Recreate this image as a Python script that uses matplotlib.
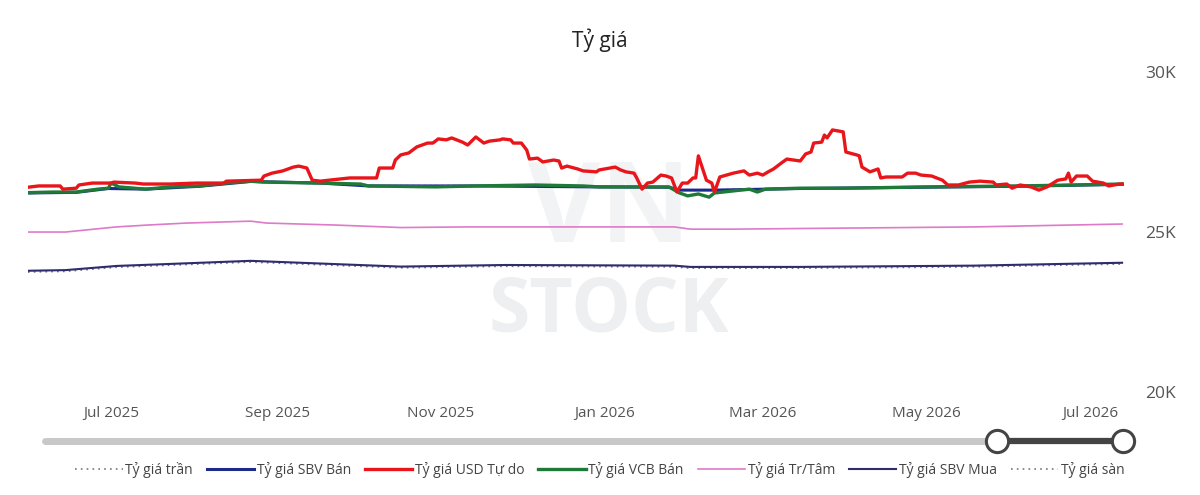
import matplotlib
matplotlib.use("Agg")
import matplotlib.pyplot as plt
import matplotlib.dates as mdates
from matplotlib.lines import Line2D
import pandas as pd

plt.rcParams['font.family'] = ['Open Sans', 'DejaVu Sans']

# Tỷ giá USD tự do (red)
usd_dates = ["2025-05-31", "2025-06-04", "2025-06-12", "2025-06-13", "2025-06-18", "2025-06-19",
             "2025-06-24", "2025-07-01", "2025-07-02", "2025-07-10", "2025-07-13", "2025-07-23",
             "2025-08-02", "2025-08-12", "2025-08-13", "2025-08-26", "2025-08-27", "2025-08-30",
             "2025-09-03", "2025-09-07", "2025-09-09", "2025-09-12", "2025-09-14", "2025-09-17",
             "2025-09-28", "2025-10-08", "2025-10-09", "2025-10-14", "2025-10-15", "2025-10-17",
             "2025-10-20", "2025-10-23", "2025-10-27", "2025-10-29", "2025-10-31", "2025-11-03",
             "2025-11-05", "2025-11-09", "2025-11-11", "2025-11-14", "2025-11-17", "2025-11-19",
             "2025-11-23", "2025-11-24", "2025-11-27", "2025-11-28", "2025-12-01", "2025-12-03",
             "2025-12-04", "2025-12-07", "2025-12-09", "2025-12-13", "2025-12-15", "2025-12-16",
             "2025-12-18", "2025-12-22", "2025-12-24", "2025-12-29", "2025-12-30", "2026-01-05",
             "2026-01-07", "2026-01-09", "2026-01-12", "2026-01-13", "2026-01-15", "2026-01-17",
             "2026-01-19", "2026-01-22", "2026-01-24", "2026-01-26", "2026-01-28", "2026-01-30",
             "2026-02-01", "2026-02-03", "2026-02-04", "2026-02-05", "2026-02-07", "2026-02-08",
             "2026-02-10", "2026-02-11", "2026-02-13", "2026-02-18", "2026-02-22", "2026-02-24",
             "2026-02-27", "2026-03-01", "2026-03-03", "2026-03-05", "2026-03-08", "2026-03-10",
             "2026-03-15", "2026-03-17", "2026-03-19", "2026-03-20", "2026-03-23", "2026-03-24",
             "2026-03-25", "2026-03-27", "2026-03-31", "2026-04-01", "2026-04-05", "2026-04-06",
             "2026-04-07", "2026-04-10", "2026-04-13", "2026-04-14", "2026-04-16", "2026-04-22",
             "2026-04-24", "2026-04-27", "2026-04-29", "2026-05-03", "2026-05-07", "2026-05-09",
             "2026-05-13", "2026-05-17", "2026-05-21", "2026-05-26", "2026-05-27", "2026-05-31",
             "2026-06-02", "2026-06-05", "2026-06-09", "2026-06-12", "2026-06-15", "2026-06-19",
             "2026-06-22", "2026-06-23", "2026-06-24", "2026-06-26", "2026-06-30", "2026-07-02",
             "2026-07-06", "2026-07-08", "2026-07-12", "2026-07-13"]
usd_values = [26400, 26440, 26440, 26340, 26370, 26470,
              26530, 26530, 26560, 26530, 26500, 26500,
              26530, 26530, 26590, 26620, 26750, 26840,
              26910, 27030, 27060, 27000, 26620, 26590,
              26690, 26690, 27000, 27000, 27250, 27410,
              27470, 27660, 27780, 27780, 27910, 27880,
              27940, 27810, 27720, 27970, 27780, 27840,
              27880, 27910, 27880, 27780, 27780, 27560,
              27280, 27310, 27190, 27250, 27220, 27000,
              27060, 26970, 26910, 26880, 26940, 27030,
              26940, 26880, 26840, 26690, 26340, 26530,
              26560, 26780, 26750, 26690, 26250, 26530,
              26530, 26690, 26690, 27380, 26880, 26620,
              26530, 26250, 26720, 26840, 26910, 26780,
              26840, 26780, 26880, 26970, 27160, 27280,
              27220, 27440, 27500, 27780, 27810, 28030,
              27940, 28190, 28130, 27500, 27410, 27380,
              27030, 26880, 26970, 26690, 26720, 26720,
              26840, 26840, 26780, 26750, 26620, 26470,
              26470, 26560, 26590, 26560, 26470, 26500,
              26370, 26470, 26410, 26310, 26410, 26620,
              26660, 26840, 26560, 26750, 26750, 26590,
              26530, 26440, 26500, 26500]

# Tỷ giá VCB Bán (green)
vcb_dates = ["2025-05-31", "2025-06-09", "2025-06-18", "2025-06-26", "2025-06-30", "2025-07-01",
             "2025-07-04", "2025-07-14", "2025-07-23", "2025-08-03", "2025-08-13", "2025-08-22",
             "2025-08-27", "2025-09-17", "2025-10-02", "2025-10-05", "2025-10-30", "2025-11-14",
             "2025-12-06", "2025-12-24", "2025-12-30", "2026-01-25", "2026-01-29", "2026-02-01",
             "2026-02-05", "2026-02-09", "2026-02-11", "2026-02-24", "2026-02-27", "2026-03-02",
             "2026-03-15", "2026-04-02", "2026-04-30", "2026-06-05", "2026-07-13"]
vcb_values = [26230, 26250, 26250, 26340, 26370, 26530,
              26410, 26340, 26410, 26440, 26530, 26590,
              26560, 26530, 26500, 26440, 26410, 26440,
              26470, 26440, 26410, 26410, 26220, 26130,
              26190, 26090, 26220, 26340, 26250, 26340,
              26370, 26370, 26410, 26440, 26500]

# Tỷ giá SBV Bán (blue) and Tỷ giá trần (dotted)
sbv_ban_dates = ["2025-05-31", "2025-06-18", "2025-06-30", "2025-07-14", "2025-08-03", "2025-08-22",
                 "2025-09-17", "2025-10-05", "2025-11-14", "2025-12-30", "2026-01-25", "2026-01-29",
                 "2026-02-11", "2026-02-24", "2026-03-15", "2026-04-30", "2026-06-05", "2026-07-13"]
sbv_ban_values = [26220, 26240, 26360, 26340, 26430, 26580,
                  26530, 26440, 26440, 26410, 26400, 26310,
                  26310, 26330, 26360, 26400, 26430, 26490]
tran_values = [26230, 26250, 26370, 26350, 26440, 26590,
               26540, 26450, 26450, 26420, 26410, 26320,
               26320, 26340, 26370, 26410, 26440, 26500]

# Tỷ giá Tr/Tâm (pink)
tam_dates = ["2025-05-31", "2025-06-14", "2025-07-03", "2025-07-15", "2025-07-29", "2025-08-22",
             "2025-08-28", "2025-09-22", "2025-10-17", "2025-11-11", "2025-12-21", "2026-01-27",
             "2026-02-02", "2026-02-18", "2026-03-15", "2026-05-19", "2026-07-13"]
tam_values = [25000, 25000, 25160, 25220, 25280, 25340,
              25280, 25220, 25140, 25160, 25160, 25160,
              25090, 25090, 25110, 25160, 25250]

# Tỷ giá SBV Mua (navy) and Tỷ giá sàn (dotted)
mua_dates = ["2025-05-31", "2025-06-14", "2025-07-03", "2025-07-22", "2025-08-22", "2025-09-22",
             "2025-10-17", "2025-11-25", "2026-01-27", "2026-02-02", "2026-03-15", "2026-05-19",
             "2026-07-13"]
mua_values = [23790, 23810, 23940, 24000, 24100, 24000,
              23920, 23970, 23950, 23910, 23910, 23950,
              24040]
san_values = [23750, 23770, 23900, 23960, 24060, 23960,
              23880, 23930, 23910, 23870, 23870, 23910,
              24000]

x_ticks = ["2025-07-01", "2025-09-01", "2025-11-01", "2026-01-01", "2026-03-01", "2026-05-01", "2026-07-01"]
y_ticks = [20000, 25000, 30000]
y_labels = ["20K", "25K", "30K"]

fig = plt.figure(figsize=(12, 4.95), dpi=100)
ax = fig.add_axes([0.0233, 0.208, 0.914, 0.6465])

# watermark
ax.text(0.53, 0.56, "VN", transform=ax.transAxes, ha="center", va="center",
        fontsize=80, fontweight="bold", color="#f2f3f4", zorder=0)
ax.text(0.53, 0.25, "STOCK", transform=ax.transAxes, ha="center", va="center",
        fontsize=54, fontweight="bold", color="#eeeff0", zorder=0)

d = pd.to_datetime
ax.plot(d(sbv_ban_dates), tran_values, linestyle=(0, (1, 2.5)), color="#777777", lw=1.2, label="Tỷ giá trần", zorder=2)
ax.plot(d(sbv_ban_dates), sbv_ban_values, color="#1c2a8c", lw=2.2, label="Tỷ giá SBV Bán", zorder=3)
ax.plot(d(usd_dates), usd_values, color="#e8161b", lw=2.4, label="Tỷ giá USD Tự do", zorder=5)
ax.plot(d(vcb_dates), vcb_values, color="#1f7a3a", lw=2.4, label="Tỷ giá VCB Bán", zorder=4)
ax.plot(d(tam_dates), tam_values, color="#de7ac8", lw=1.2, label="Tỷ giá Tr/Tâm", zorder=3)
ax.plot(d(mua_dates), mua_values, color="#2e2b6e", lw=1.5, label="Tỷ giá SBV Mua", zorder=3)
ax.plot(d(mua_dates), san_values, linestyle=(0, (1, 2.5)), color="#777777", lw=1.2, label="Tỷ giá sàn", zorder=2)

ax.set_xlim(d("2025-05-31"), d("2026-07-14"))
ax.set_ylim(20000, 30000)
ax.set_xticks(d(x_ticks))
ax.xaxis.set_major_formatter(mdates.DateFormatter("%b %Y"))
ax.yaxis.tick_right()
ax.set_yticks(y_ticks)
ax.set_yticklabels(y_labels)
ax.tick_params(axis="x", length=0, pad=10, labelsize=11, labelcolor="#555555")
ax.tick_params(axis="y", length=0, pad=15, labelsize=12.5, labelcolor="#555555")
for s in ax.spines.values():
    s.set_visible(False)

fig.text(0.5, 0.918, "Tỷ giá", ha="center", va="center", fontsize=15, color="#222222")

leg = fig.legend(loc="center", bbox_to_anchor=(0.5, 0.05), ncol=7, frameon=False,
                 fontsize=10, handlelength=3.4, handletextpad=0.2, columnspacing=1.0,
                 labelcolor="#444444")

# range slider
sy = 1 - 441 / 495
fig.add_artist(Line2D([45 / 1200, 997 / 1200], [sy, sy], transform=fig.transFigure,
                      color="#c8c8c8", lw=5, solid_capstyle="round"))
fig.add_artist(Line2D([997 / 1200, 1123 / 1200], [sy, sy], transform=fig.transFigure,
                      color="#444444", lw=4.5))
for hx in (997, 1123):
    fig.add_artist(Line2D([hx / 1200], [sy], transform=fig.transFigure, marker="o",
                          markersize=16, markerfacecolor="white", markeredgecolor="#444444",
                          markeredgewidth=2.2, linestyle="none"))

fig.savefig("out.png", dpi=100, facecolor="white")
